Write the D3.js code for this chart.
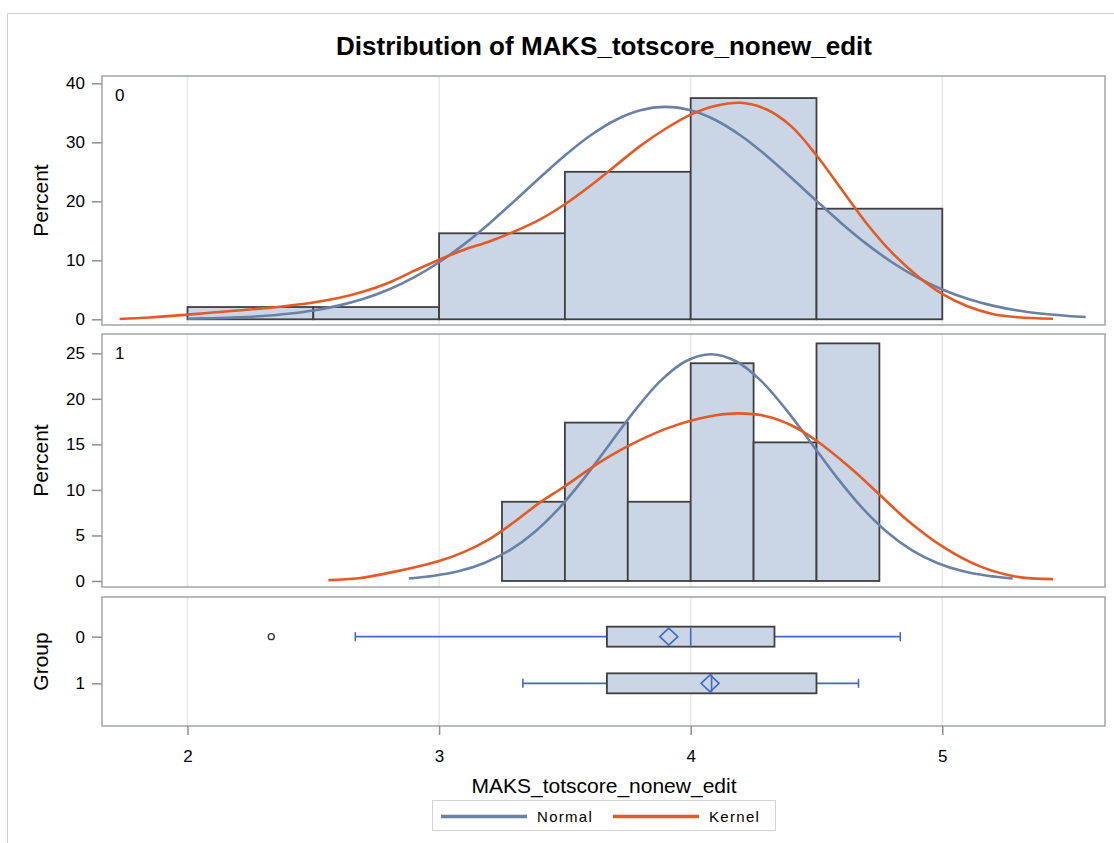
<!DOCTYPE html>
<html>
<head>
<meta charset="utf-8">
<script src="https://cdn.jsdelivr.net/npm/d3@7"></script>
<style>
  html, body { margin: 0; padding: 0; background: #fff; }
  svg { display: block; }
  text { font-family: "Liberation Sans", Arial, sans-serif; fill: #000; }
</style>
</head>
<body>
<svg id="chart" width="1114" height="843"></svg>
<script>
// ---------------- DATA ----------------
const titleText = "Distribution of MAKS_totscore_nonew_edit";
const xLabel = "MAKS_totscore_nonew_edit";
const groups = ["0", "1"];
const xTicks = [2, 3, 4, 5];
const yTicksTop = [0, 10, 20, 30, 40];
const yTicksMid = [0, 5, 10, 15, 20, 25];
const legendItems = ["Normal", "Kernel"];

// histogram group 0 (bin edges + percent)
const bins0 = [2, 2.5, 3, 3.5, 4, 4.5, 5];
const pct0 = [2.08, 2.08, 14.58, 25.0, 37.5, 18.75];
// histogram group 1
const bins1 = [3.25, 3.5, 3.75, 4.0, 4.25, 4.5, 4.75];
const pct1 = [8.70, 17.39, 8.70, 23.91, 15.22, 26.09];

// fitted normal curves
const normal0X = [2.0, 2.1, 2.2, 2.3, 2.4, 2.5, 2.6, 2.7, 2.8, 2.9, 3.0, 3.1, 3.2, 3.3, 3.4, 3.5, 3.6, 3.7, 3.8, 3.9, 4.0, 4.1, 4.2, 4.3, 4.4, 4.5, 4.6, 4.7, 4.8, 4.9, 5.0, 5.1, 5.2, 5.3, 5.4, 5.5, 5.57];
const normal0Y = [0.10, 0.19, 0.33, 0.56, 0.93, 1.49, 2.32, 3.48, 5.05, 7.10, 9.67, 12.74, 16.25, 20.07, 23.99, 27.77, 31.11, 33.74, 35.42, 36.0, 35.42, 33.74, 31.11, 27.77, 23.99, 20.07, 16.25, 12.74, 9.67, 7.10, 5.05, 3.48, 2.32, 1.49, 0.93, 0.56, 0.38];
const normal1X = [2.88, 2.98, 3.08, 3.18, 3.28, 3.38, 3.48, 3.58, 3.68, 3.78, 3.88, 3.98, 4.08, 4.18, 4.28, 4.38, 4.48, 4.58, 4.68, 4.78, 4.88, 4.98, 5.08, 5.18, 5.28];
const normal1Y = [0.28, 0.57, 1.09, 1.98, 3.37, 5.39, 8.08, 11.40, 15.10, 18.79, 21.97, 24.13, 24.9, 24.13, 21.97, 18.79, 15.10, 11.40, 8.08, 5.39, 3.37, 1.98, 1.09, 0.57, 0.28];

// kernel density curves
const kernel0X = [1.73, 1.85, 2.0, 2.1, 2.2, 2.3, 2.4, 2.5, 2.6, 2.7, 2.8, 2.9, 3.0, 3.1, 3.2, 3.3, 3.4, 3.5, 3.6, 3.7, 3.8, 3.9, 4.0, 4.1, 4.2, 4.3, 4.4, 4.5, 4.6, 4.7, 4.8, 4.9, 5.0, 5.1, 5.2, 5.3, 5.44];
const kernel0Y = [0.05, 0.3, 0.8, 1.15, 1.5, 1.85, 2.3, 2.85, 3.6, 4.7, 6.2, 8.2, 10.1, 11.8, 13.2, 14.9, 16.9, 19.5, 22.6, 26.0, 29.4, 32.3, 34.7, 36.2, 36.7, 35.6, 32.7, 27.8, 22.0, 16.2, 11.3, 7.4, 4.3, 2.2, 0.9, 0.35, 0.1];
const kernel1X = [2.56, 2.68, 2.82, 3.0, 3.1, 3.2, 3.3, 3.4, 3.5, 3.62, 3.75, 3.9, 4.0, 4.1, 4.19, 4.3, 4.4, 4.5, 4.64, 4.75, 4.86, 5.0, 5.15, 5.29, 5.44];
const kernel1Y = [0.1, 0.3, 1.0, 2.2, 3.2, 4.6, 6.5, 8.6, 10.4, 12.7, 14.8, 16.7, 17.6, 18.2, 18.4, 18.1, 17.1, 15.4, 12.3, 9.5, 6.7, 3.8, 1.6, 0.5, 0.2];

// box plot stats per group: min whisker, Q1, median, Q3, max whisker, mean
const boxMin = [2.667, 3.333];
const boxQ1 = [3.667, 3.667];
const boxMedian = [4.0, 4.083];
const boxQ3 = [4.333, 4.5];
const boxMax = [4.833, 4.667];
const boxMean = [3.913, 4.077];
const outliers0 = [2.333];

// ---------------- STYLE ----------------
const C = {
  frame: "#A3A6AA",
  grid: "#E8E8E8",
  barFill: "#CAD5E5",
  barStroke: "#3F3F3F",
  normal: "#6A81A6",
  kernel: "#E35A26",
  boxLine: "#4468C4",
  outer: "#CFCFCF",
  tick: "#8F8F8F"
};
const F = "'Liberation Sans', Arial, sans-serif";

const svg = d3.select("#chart");

// outer border
svg.append("path")
  .attr("d", "M7.5,843 V13.5 H1114")
  .attr("fill", "none").attr("stroke", C.outer).attr("stroke-width", 1);

// title
svg.append("text")
  .attr("x", 604).attr("y", 55)
  .attr("text-anchor", "middle")
  .style("font-size", "26px").style("font-weight", "bold")
  .text(titleText);

// panels
const PL = 102, PR = 1105;
const panels = {
  top: { y0: 76, y1: 325 },
  mid: { y0: 334, y1: 587 },
  box: { y0: 597, y1: 726 }
};

const x = d3.scaleLinear().domain([1.6602, 5.6467]).range([PL, PR]);
const yTop = d3.scaleLinear().domain([-0.966, 41.24]).range([panels.top.y1, panels.top.y0]);
const yMid = d3.scaleLinear().domain([-0.66, 27.12]).range([panels.mid.y1, panels.mid.y0]);
const yBox = d3.scalePoint().domain(groups).range([panels.box.y0, 723]).padding(0.85);

// gridlines per panel
Object.values(panels).forEach(p => {
  svg.append("g").selectAll("line").data(xTicks).join("line")
    .attr("x1", d => x(d)).attr("x2", d => x(d))
    .attr("y1", p.y0).attr("y2", p.y1)
    .attr("stroke", C.grid).attr("stroke-width", 1.5);
});

function yAxis(scale, ticks) {
  const g = svg.append("g").attr("transform", `translate(${PL},0)`)
    .call(d3.axisLeft(scale).tickValues(ticks).tickSize(10).tickPadding(7).tickSizeOuter(0));
  g.select(".domain").remove();
  g.selectAll(".tick line").attr("stroke", C.tick).attr("stroke-width", 1.5);
  g.selectAll(".tick text").style("font-size", "17px").style("font-family", F).attr("fill", "#111");
  return g;
}
yAxis(yTop, yTicksTop);
yAxis(yMid, yTicksMid);
yAxis(yBox, groups);

// axis titles
function vLabel(txt, cy) {
  svg.append("text")
    .attr("transform", `translate(48,${cy}) rotate(-90)`)
    .attr("text-anchor", "middle")
    .style("font-size", "21px")
    .text(txt);
}
vLabel("Percent", (panels.top.y0 + panels.top.y1) / 2);
vLabel("Percent", (panels.mid.y0 + panels.mid.y1) / 2);
vLabel("Group", (panels.box.y0 + panels.box.y1) / 2);

// histograms
function hist(edges, pct, yS) {
  const data = pct.map((v, i) => ({ a: edges[i], b: edges[i + 1], v }));
  svg.append("g").selectAll("rect").data(data).join("rect")
    .attr("x", d => x(d.a)).attr("width", d => x(d.b) - x(d.a))
    .attr("y", d => yS(d.v)).attr("height", d => yS(0) - yS(d.v))
    .attr("fill", C.barFill).attr("stroke", C.barStroke).attr("stroke-width", 1.8);
}
hist(bins0, pct0, yTop);
hist(bins1, pct1, yMid);

// curves
function curve(xs, ys, yS, color) {
  const line = d3.line().x(d => x(d[0])).y(d => yS(d[1])).curve(d3.curveCatmullRom.alpha(0.5));
  svg.append("path").datum(xs.map((v, i) => [v, ys[i]]))
    .attr("d", line).attr("fill", "none").attr("stroke", color)
    .attr("stroke-width", 2.6).attr("stroke-linejoin", "round");
}
curve(normal0X, normal0Y, yTop, C.normal);
curve(kernel0X, kernel0Y, yTop, C.kernel);
curve(normal1X, normal1Y, yMid, C.normal);
curve(kernel1X, kernel1Y, yMid, C.kernel);

// panel inset labels
svg.append("text").attr("x", 115).attr("y", 101).style("font-size", "17px").text(groups[0]);
svg.append("text").attr("x", 115).attr("y", 359).style("font-size", "17px").text(groups[1]);

// box plots
const boxH = 20, capH = 9;
const bg = svg.append("g");
groups.forEach((g, i) => {
  const cy = yBox(g);
  bg.append("line").attr("x1", x(boxMin[i])).attr("x2", x(boxQ1[i])).attr("y1", cy).attr("y2", cy)
    .attr("stroke", C.boxLine).attr("stroke-width", 1.6);
  bg.append("line").attr("x1", x(boxQ3[i])).attr("x2", x(boxMax[i])).attr("y1", cy).attr("y2", cy)
    .attr("stroke", C.boxLine).attr("stroke-width", 1.6);
  [boxMin[i], boxMax[i]].forEach(v => {
    bg.append("line").attr("x1", x(v)).attr("x2", x(v)).attr("y1", cy - capH / 2).attr("y2", cy + capH / 2)
      .attr("stroke", C.boxLine).attr("stroke-width", 1.6);
  });
  bg.append("rect").attr("x", x(boxQ1[i])).attr("width", x(boxQ3[i]) - x(boxQ1[i]))
    .attr("y", cy - boxH / 2).attr("height", boxH)
    .attr("fill", C.barFill).attr("stroke", C.barStroke).attr("stroke-width", 1.8);
  bg.append("line").attr("x1", x(boxMedian[i])).attr("x2", x(boxMedian[i]))
    .attr("y1", cy - boxH / 2 + 1).attr("y2", cy + boxH / 2 - 1)
    .attr("stroke", C.boxLine).attr("stroke-width", 1.6);
  const mx = x(boxMean[i]);
  bg.append("path").attr("d", `M${mx - 9},${cy} L${mx},${cy - 8.5} L${mx + 9},${cy} L${mx},${cy + 8.5} Z`)
    .attr("fill", "none").attr("stroke", C.boxLine).attr("stroke-width", 1.6);
});
bg.selectAll("circle.out").data(outliers0).join("circle").attr("class", "out")
  .attr("cx", d => x(d)).attr("cy", yBox(groups[0])).attr("r", 3)
  .attr("fill", "none").attr("stroke", "#333").attr("stroke-width", 1.4);

// panel frames
Object.values(panels).forEach(p => {
  svg.append("rect").attr("x", PL).attr("y", p.y0).attr("width", PR - PL).attr("height", p.y1 - p.y0)
    .attr("fill", "none").attr("stroke", C.frame).attr("stroke-width", 1.5);
});

// x axis
const xa = svg.append("g").attr("transform", `translate(0,${panels.box.y1})`)
  .call(d3.axisBottom(x).tickValues(xTicks).tickFormat(d3.format("d")).tickSize(9).tickPadding(15).tickSizeOuter(0));
xa.select(".domain").remove();
xa.selectAll(".tick line").attr("stroke", C.tick).attr("stroke-width", 1.5);
xa.selectAll(".tick text").style("font-size", "17px").style("font-family", F).attr("fill", "#111");

svg.append("text").attr("x", 604).attr("y", 793).attr("text-anchor", "middle")
  .style("font-size", "21px").text(xLabel);

// legend
const lg = svg.append("g");
lg.append("rect").attr("x", 432.5).attr("y", 800.5).attr("width", 343).attr("height", 30)
  .attr("fill", "#fff").attr("stroke", "#D3D3D3").attr("stroke-width", 1);
const legColors = [C.normal, C.kernel];
const legX = [441, 613];
legendItems.forEach((t, i) => {
  lg.append("line").attr("x1", legX[i]).attr("x2", legX[i] + 86).attr("y1", 816.5).attr("y2", 816.5)
    .attr("stroke", legColors[i]).attr("stroke-width", 3.5);
  lg.append("text").attr("x", legX[i] + 96).attr("y", 822).style("font-size", "15px")
    .style("letter-spacing", "1.3px").text(t);
});
</script>
</body>
</html>
